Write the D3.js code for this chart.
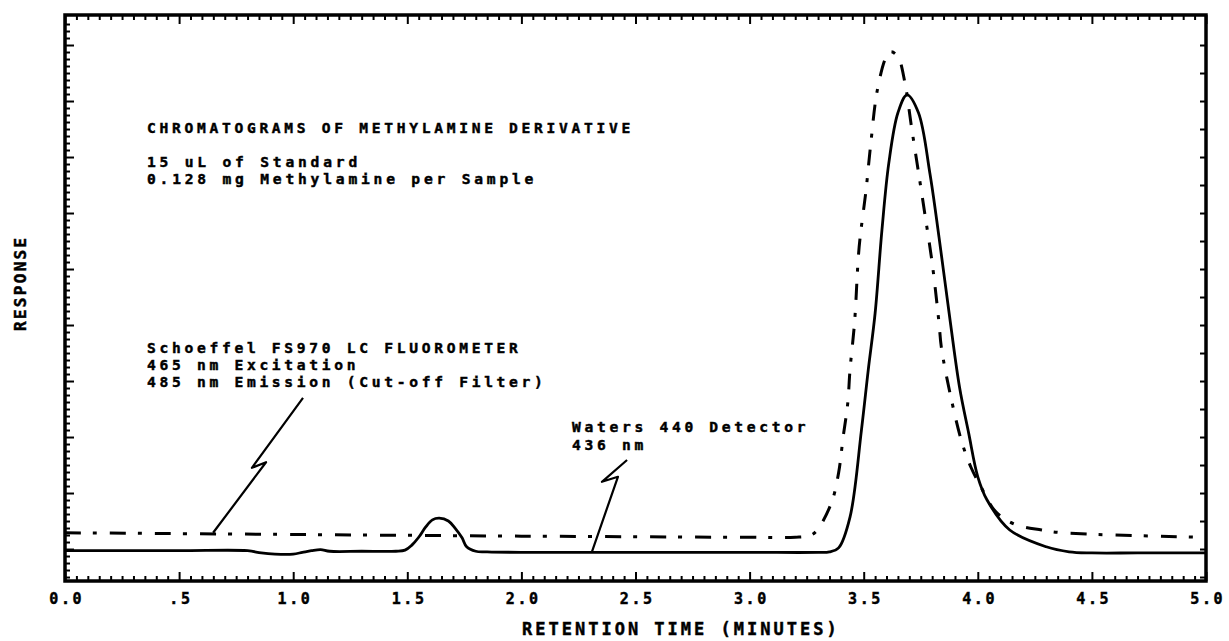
<!DOCTYPE html>
<html>
<head>
<meta charset="utf-8">
<script src="https://cdn.jsdelivr.net/npm/d3@7"></script>
<style>
  html, body { margin: 0; padding: 0; background: #fff; }
  svg { display: block; }
  text { font-family: "DejaVu Sans Mono", "Liberation Mono", monospace; font-weight: bold; fill: #000; stroke: #000; stroke-width: 0.45px; }
</style>
</head>
<body>
<svg id="chart" width="1229" height="641"></svg>
<script>
// ---------------- DATA ----------------
const xTickValues = [0, 0.5, 1, 1.5, 2, 2.5, 3, 3.5, 4, 4.5, 5];
const xTickLabels = ["0.0", ".5", "1.0", "1.5", "2.0", "2.5", "3.0", "3.5", "4.0", "4.5", "5.0"];
const yMajorTicks = [0, 1, 2, 3, 4, 5, 6, 7, 8, 9];

// Waters 440 Detector, 436 nm (solid line): [minutes, response]
const waters440 = [
  [0.00, -0.03], [0.50, -0.03], [0.80, -0.03], [0.86, -0.07], [0.92, -0.09], [1.00, -0.09],
  [1.04, -0.06], [1.08, -0.03], [1.12, -0.01], [1.16, -0.04], [1.30, -0.04], [1.45, -0.04],
  [1.49, -0.02], [1.52, 0.07], [1.55, 0.21], [1.58, 0.39], [1.61, 0.52], [1.64, 0.55],
  [1.68, 0.50], [1.71, 0.37], [1.74, 0.20], [1.76, 0.04], [1.80, -0.04], [1.85, -0.05],
  [2.00, -0.06], [2.50, -0.06], [3.00, -0.06], [3.30, -0.06], [3.35, -0.05], [3.39, 0.02],
  [3.44, 0.57], [3.49, 2.12], [3.52, 3.20], [3.55, 4.21], [3.58, 5.70], [3.61, 6.89],
  [3.65, 7.79], [3.69, 8.11], [3.74, 7.79], [3.79, 6.71], [3.83, 5.57], [3.88, 4.04],
  [3.92, 2.89], [3.96, 2.07], [4.00, 1.29], [4.04, 0.88], [4.14, 0.34], [4.30, 0.04],
  [4.40, -0.05], [4.50, -0.07], [4.70, -0.07], [5.00, -0.07]
];

// Schoeffel FS970 LC Fluorometer (dash-dot line): [minutes, response]
const fs970 = [
  [0.00, 0.29], [1.00, 0.26], [2.00, 0.23], [3.00, 0.21], [3.20, 0.21], [3.27, 0.25],
  [3.30, 0.36], [3.36, 0.84], [3.39, 1.36], [3.41, 2.00], [3.43, 2.60], [3.44, 3.20],
  [3.46, 4.05], [3.48, 5.39], [3.51, 6.40], [3.53, 7.20], [3.56, 8.20], [3.60, 8.80],
  [3.62, 8.88], [3.65, 8.79], [3.68, 8.34], [3.71, 7.52], [3.74, 6.73], [3.77, 5.93],
  [3.80, 5.11], [3.83, 4.04], [3.84, 3.61], [3.88, 2.75], [3.93, 1.91], [3.97, 1.46],
  [4.01, 1.14], [4.08, 0.66], [4.17, 0.43], [4.28, 0.34], [4.37, 0.29], [5.00, 0.21]
];

// leader ("lightning") lines of the two detector labels: [minutes, response]
const fs970Leader = [[0.649, 0.29], [0.881, 1.55], [0.819, 1.45], [1.043, 2.70]];
const waters440Leader = [[2.309, -0.05], [2.423, 1.29], [2.353, 1.20], [2.463, 1.59]];

const titleLines = ["CHROMATOGRAMS OF METHYLAMINE DERIVATIVE"];
const standardLines = ["15 uL of Standard", "0.128 mg Methylamine per Sample"];
const fs970Lines = ["Schoeffel FS970 LC FLUOROMETER", "465 nm Excitation", "485 nm Emission (Cut-off Filter)"];
const waters440Lines = ["Waters 440 Detector", "436 nm"];
const xTitle = "RETENTION TIME (MINUTES)";
const yTitle = "RESPONSE";

// ---------------- LAYOUT ----------------
const L = 65, R = 1206, T = 15, B = 581;
const svg = d3.select("#chart");

const x = d3.scaleLinear().domain([0, 5]).range([L, R]);
const y = d3.scaleLinear().domain([-0.571, 9.536]).range([B, T]);

// minor tick positions
const xMinor = d3.range(0, 5.0001, 0.05).filter(v => Math.abs(v * 2 - Math.round(v * 2)) > 1e-6);
const yMinor = d3.range(-0.5, 9.5, 0.125).filter(v => Math.abs(v - Math.round(v)) > 1e-6);
const yRight = d3.range(-0.5, 9.5, 0.5);

function styleAxis(g) {
  g.select(".domain").remove();
  g.selectAll(".tick line").attr("stroke", "#000").attr("stroke-width", 2);
}

// bottom ticks
svg.append("g").attr("transform", `translate(0,${B})`)
  .call(d3.axisBottom(x).tickValues(xMinor).tickSize(-5).tickFormat(""))
  .call(styleAxis);
const xAxisG = svg.append("g").attr("transform", `translate(0,${B})`)
  .call(d3.axisBottom(x).tickValues(xTickValues).tickSize(-9).tickPadding(12)
    .tickFormat((d, i) => xTickLabels[i]))
  .call(styleAxis);
xAxisG.selectAll(".tick text")
  .attr("font-size", 15).attr("letter-spacing", 2.6).attr("dx", 1.3)
  .style("font-family", "'DejaVu Sans Mono', monospace").style("font-weight", "bold")
  .attr("fill", "#000").attr("stroke", "#000").attr("stroke-width", 0.45);

// top ticks
svg.append("g").attr("transform", `translate(0,${T})`)
  .call(d3.axisTop(x).tickValues(xMinor).tickSize(-5).tickFormat(""))
  .call(styleAxis);
svg.append("g").attr("transform", `translate(0,${T})`)
  .call(d3.axisTop(x).tickValues(xTickValues).tickSize(-9).tickFormat(""))
  .call(styleAxis);

// left ticks
svg.append("g").attr("transform", `translate(${L},0)`)
  .call(d3.axisLeft(y).tickValues(yMinor).tickSize(-5).tickFormat(""))
  .call(styleAxis);
svg.append("g").attr("transform", `translate(${L},0)`)
  .call(d3.axisLeft(y).tickValues(yMajorTicks).tickSize(-9).tickFormat(""))
  .call(styleAxis);

// right ticks
svg.append("g").attr("transform", `translate(${R},0)`)
  .call(d3.axisRight(y).tickValues(yRight).tickSize(-6).tickFormat(""))
  .call(styleAxis);

// frame
svg.append("rect")
  .attr("x", L).attr("y", T).attr("width", R - L).attr("height", B - T)
  .attr("fill", "none").attr("stroke", "#000").attr("stroke-width", 3.5);

// curves
const line = d3.line().x(d => x(d[0])).y(d => y(d[1])).curve(d3.curveCatmullRom.alpha(0.5));

svg.append("path").datum(fs970)
  .attr("d", line).attr("fill", "none").attr("stroke", "#000")
  .attr("stroke-width", 3).attr("stroke-dasharray", "16,12,4,13");

svg.append("path").datum(waters440)
  .attr("d", line).attr("fill", "none").attr("stroke", "#000")
  .attr("stroke-width", 2.8).attr("stroke-linejoin", "round");

const leader = d3.line().x(d => x(d[0])).y(d => y(d[1]));
[fs970Leader, waters440Leader].forEach(pts => {
  svg.append("path").datum(pts).attr("d", leader)
    .attr("fill", "none").attr("stroke", "#000").attr("stroke-width", 2.2)
    .attr("stroke-linejoin", "round");
});

// text blocks (one text element per line)
function block(lines, x0, y0, dy, size, ls) {
  lines.forEach((s, i) => {
    svg.append("text").attr("x", x0).attr("y", y0 + i * dy)
      .attr("font-size", size).attr("letter-spacing", ls).text(s);
  });
}
block(titleLines, 147, 133, 17, 14.6, 3.7);
block(standardLines, 147, 167, 17, 14.6, 3.8);
block(fs970Lines, 147, 353, 17, 14.6, 3.7);
block(waters440Lines, 572, 432, 18, 14.6, 3.7);

// axis titles
svg.append("text").attr("x", 522).attr("y", 635)
  .attr("font-size", 17).attr("letter-spacing", 3).text(xTitle);

svg.append("text")
  .attr("transform", "translate(26,331) rotate(-90)")
  .attr("font-size", 16).attr("letter-spacing", 2.3).text(yTitle);
</script>
</body>
</html>
